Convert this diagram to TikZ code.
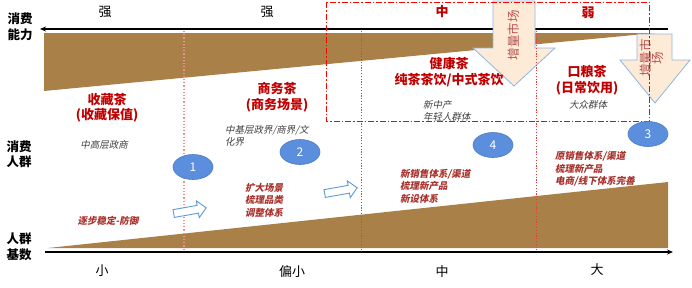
\documentclass[tikz,border=0pt]{standalone}
\usepackage{fontspec}
\setmainfont{Noto Sans CJK SC}
\newfontfamily\cjkit[FakeSlant=0.2,BoldFeatures={FakeSlant=0.2}]{Noto Sans CJK SC}
\usetikzlibrary{shapes.geometric,shapes.arrows,arrows.meta}
\definecolor{band}{HTML}{A98148}
\definecolor{tred}{HTML}{C00000}
\definecolor{dred}{HTML}{A8322D}
\definecolor{gtext}{HTML}{404040}
\definecolor{ellfill}{HTML}{5B8FDE}
\definecolor{ellline}{HTML}{4A7BC8}
\definecolor{peach}{HTML}{FDEBD8}
\definecolor{arrline}{HTML}{8EB4E3}
\definecolor{sarr}{HTML}{5B9BD5}
\definecolor{arrtext}{HTML}{B85450}
\definecolor{salmon}{HTML}{F09090}
\definecolor{sepred}{HTML}{E83C3C}
\tikzset{
  lvl/.style={font=\fontsize{13}{15}\selectfont, inner sep=0pt},
  lvlred/.style={lvl, text=tred, font=\fontsize{13}{15}\selectfont\bfseries},
  axlabel/.style={font=\fontsize{12.5}{15.5}\selectfont\bfseries, align=center, inner sep=0pt},
  title/.style={text=tred, font=\fontsize{13}{15.5}\selectfont\bfseries, align=center, inner sep=0pt},
  crowd/.style={text=gtext, font=\cjkit\fontsize{9.5}{12.5}\selectfont, align=left, inner sep=0pt},
  action/.style={text=dred, font=\cjkit\bfseries\fontsize{9.5}{12.5}\selectfont, align=left, inner sep=0pt},
  num/.style={ellipse, fill=ellfill, draw=ellline, line width=0.6pt, minimum width=40pt, minimum height=25pt, text=white, font=\fontsize{12}{14}\selectfont, inner sep=0pt},
  bigarrow/.style={fill=peach, draw=arrline, line width=0.8pt, line join=miter},
  arrtxt/.style={text=arrtext, font=\fontsize{12.5}{12}\selectfont, align=center, inner sep=0pt, rotate=90},
  smallarrow/.style={single arrow, draw=sarr, fill=white, line width=0.9pt, minimum height=33pt, minimum width=17pt, single arrow head extend=4pt, inner sep=3pt},
  sepline/.style={sepred, line width=0.6pt, dash pattern=on 1.2pt off 1.6pt},
}
\begin{document}
\begin{tikzpicture}[x=1pt,y=-1pt]
\useasboundingbox (0,0) rectangle (692,287);
% brown bands
\fill[band] (44,33) -- (655,33) -- (44,91) -- cycle;
\fill[band] (48,248) -- (668,182) -- (668,248) -- cycle;
% axes
\coordinate (tR) at (668,29);
\coordinate (tL) at (40,29);
\coordinate (bL) at (45,252);
\coordinate (bR) at (673,252);
\draw[line width=1.6pt, -{Stealth[length=6pt,width=5pt]}] (tR) -- (tL);
\draw[line width=1.6pt, -{Stealth[length=6pt,width=5pt]}] (bL) -- (bR);
% big downward arrows
\draw[bigarrow] (493,1) -- (535,1) -- (535,48) -- (555,48) -- (514,86) -- (473,48) -- (493,48) -- cycle;
\draw[bigarrow] (637,34) -- (672,34) -- (672,60) -- (690,60) -- (655,103) -- (620,60) -- (637,60) -- cycle;
\node[arrtxt] (a1) at (514,35) {增量市场};
\node[arrtxt] (a2) at (652,58) {增量市\\场};
% separators
\draw[salmon, line width=1.2pt, dotted] (184,31) -- (184,250);
\draw[sepline] (361,31) -- (361,250);
\draw[sepline] (536,31) -- (536,250);
% red dash-dot frame
\draw[red, line width=1pt, dash pattern=on 6pt off 2pt on 1.5pt off 2pt] (326,2) rectangle (649,121);
% level labels
\node[lvl] (s1) at (105,12) {强};
\node[lvl] (s2) at (267,12) {强};
\node[lvlred] (s3) at (442,12) {中};
\node[lvlred] (s4) at (588,13) {弱};
\node[lvl] (b1) at (102,271) {小};
\node[lvl] (b2) at (292,272) {偏小};
\node[lvl] (b3) at (442,272) {中};
\node[lvl] (b4) at (597,270) {大};
% axis labels
\node[axlabel] (l1) at (20,27) {消费\\能力};
\node[axlabel] (l2) at (19,154) {消费\\人群};
\node[axlabel] (l3) at (19,247) {人群\\基数};
% titles
\node[title] (c1) at (107,108) {收藏茶\\(收藏保值)};
\node[title] (c2) at (277,97) {商务茶\\(商务场景)};
\node[title] (c3) at (449,72) {健康茶\\纯茶茶饮/中式茶饮};
\node[title] (c4) at (587,80) {口粮茶\\(日常饮用)};
% crowds
\node[crowd] (p1) at (104,145) {中高层政商};
\node[crowd, anchor=west] (p2) at (225,136) {中基层政界/商界/文\\化界};
\node[crowd, anchor=west] (p3) at (423,111) {新中产\\年轻人群体};
\node[crowd] (p4) at (588,105) {大众群体};
% numbers
\node[num] (n1) at (193,167) {1};
\node[num] (n2) at (300,152) {2};
\node[num] (n4) at (493,145) {4};
\node[num] (n3) at (648,134) {3};
% actions
\node[action] (x1) at (108,221) {逐步稳定-防御};
\node[action, anchor=west] (x2) at (245,200) {扩大场景\\梳理品类\\调整体系};
\node[action, anchor=west] (x3) at (400,186) {新销售体系/渠道\\梳理新产品\\新设体系};
\node[action, anchor=west] (x4) at (555,169) {原销售体系/渠道\\梳理新产品\\电商/线下体系完善};
% small arrows
\node[smallarrow, rotate=10] (r1) at (188,211) {};
\node[smallarrow, rotate=10] (r2) at (339,191) {};
\end{tikzpicture}
\end{document}
